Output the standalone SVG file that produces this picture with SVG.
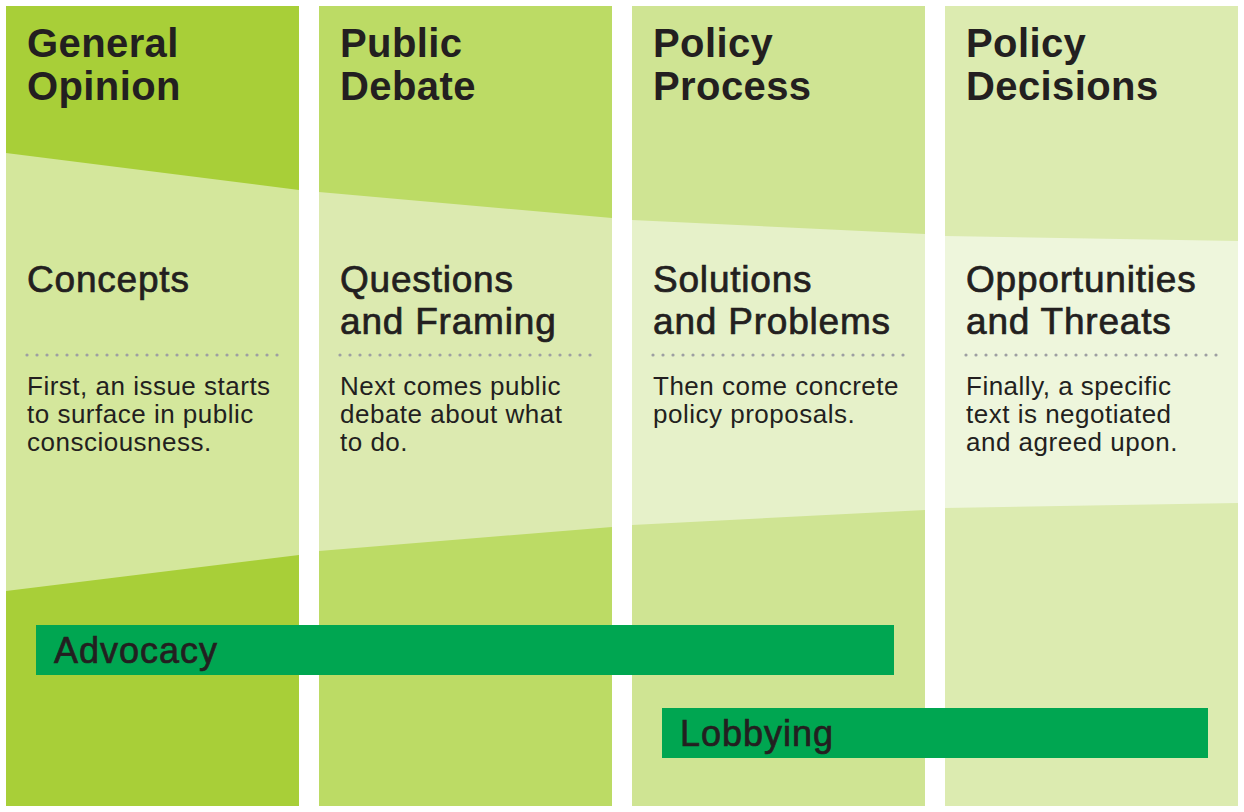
<svg xmlns="http://www.w3.org/2000/svg" width="1244" height="812" viewBox="0 0 1244 812">
<style>
.h{font-family:"Liberation Sans",Arial,sans-serif;font-weight:bold;font-size:40px;letter-spacing:0.4px;fill:#231f20}
.s{font-family:"Liberation Sans",Arial,sans-serif;font-size:37px;letter-spacing:0.8px;fill:#231f20;stroke:#231f20;stroke-width:0.7px}
.b{font-family:"Liberation Sans",Arial,sans-serif;font-size:26px;letter-spacing:0.5px;fill:#231f20}
.bar{font-family:"Liberation Sans",Arial,sans-serif;font-size:36px;letter-spacing:1px;fill:#231f20;stroke:#231f20;stroke-width:0.7px}
.dots{stroke:#9d9fa2;stroke-width:3.2;stroke-linecap:round;stroke-dasharray:0 10;fill:none}
</style>
<rect width="1244" height="812" fill="#fff"/>
<g id="col1">
<rect x="6" y="6" width="293" height="800" fill="#a8cf38"/>
<polygon points="6,153 299,190 299,555 6,591" fill="#d4e79c"/>
<text class="h" x="27" y="57">General</text>
<text class="h" x="27" y="100">Opinion</text>
<text class="s" x="27" y="292">Concepts</text>
<line class="dots" x1="27" y1="355" x2="280" y2="355"/>
<text class="b" x="27" y="395">First, an issue starts</text>
<text class="b" x="27" y="423">to surface in public</text>
<text class="b" x="27" y="451">consciousness.</text>
</g>
<g id="col2">
<rect x="319" y="6" width="293" height="800" fill="#bcdb65"/>
<polygon points="319,192 612,218 612,527 319,551" fill="#dceab0"/>
<text class="h" x="340" y="57">Public</text>
<text class="h" x="340" y="100">Debate</text>
<text class="s" x="340" y="292">Questions</text>
<text class="s" x="340" y="334">and Framing</text>
<line class="dots" x1="340" y1="355" x2="593" y2="355"/>
<text class="b" x="340" y="395">Next comes public</text>
<text class="b" x="340" y="423">debate about what</text>
<text class="b" x="340" y="451">to do.</text>
</g>
<g id="col3">
<rect x="632" y="6" width="293" height="800" fill="#cfe493"/>
<polygon points="632,220 925,234 925,510 632,525" fill="#e6f1c9"/>
<text class="h" x="653" y="57">Policy</text>
<text class="h" x="653" y="100">Process</text>
<text class="s" x="653" y="292">Solutions</text>
<text class="s" x="653" y="334">and Problems</text>
<line class="dots" x1="653" y1="355" x2="906" y2="355"/>
<text class="b" x="653" y="395">Then come concrete</text>
<text class="b" x="653" y="423">policy proposals.</text>
</g>
<g id="col4">
<rect x="945" y="6" width="293" height="800" fill="#dcebb0"/>
<polygon points="945,236 1238,241 1238,503 945,508" fill="#eef6dc"/>
<text class="h" x="966" y="57">Policy</text>
<text class="h" x="966" y="100">Decisions</text>
<text class="s" x="966" y="292">Opportunities</text>
<text class="s" x="966" y="334">and Threats</text>
<line class="dots" x1="966" y1="355" x2="1219" y2="355"/>
<text class="b" x="966" y="395">Finally, a specific</text>
<text class="b" x="966" y="423">text is negotiated</text>
<text class="b" x="966" y="451">and agreed upon.</text>
</g>
<g id="connectors"></g>
<g id="advocacy">
<rect x="36" y="625" width="858" height="50" fill="#00a651"/>
<text class="bar" x="54" y="663">Advocacy</text>
</g>
<g id="lobbying">
<rect x="662" y="708" width="546" height="50" fill="#00a651"/>
<text class="bar" x="680" y="746">Lobbying</text>
</g>
</svg>
